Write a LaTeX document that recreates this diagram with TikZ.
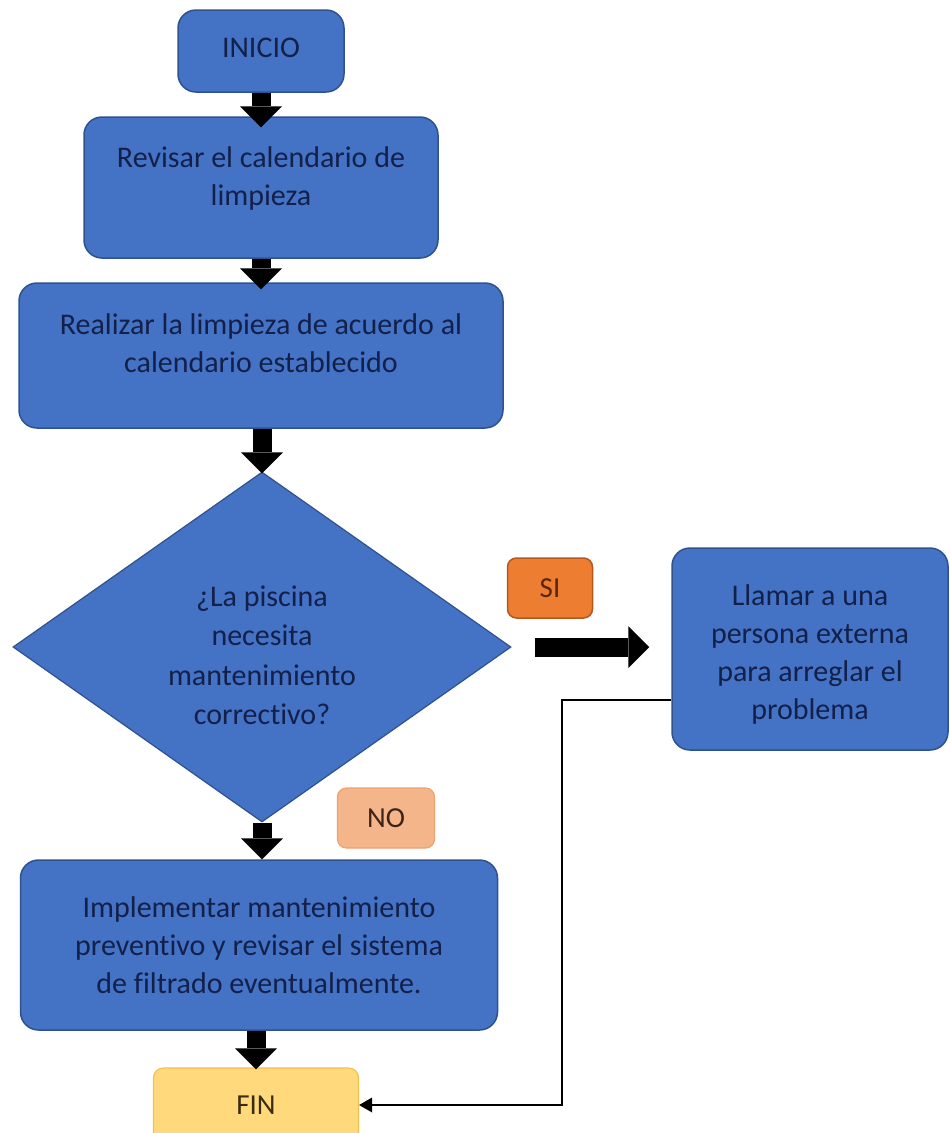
\documentclass[tikz,border=0pt]{standalone}
\usepackage{fontspec}
\setmainfont{Carlito}[Ligatures=CommonOff]
\usetikzlibrary{arrows.meta,shapes.geometric,calc}
\definecolor{boxblue}{HTML}{4472C4}
\definecolor{boxborder}{HTML}{2F528F}
\definecolor{navytext}{HTML}{13204A}
\definecolor{siorange}{HTML}{ED7D31}
\definecolor{siborder}{HTML}{B4581E}
\definecolor{sitext}{HTML}{5A2608}
\definecolor{nofill}{HTML}{F5B58A}
\definecolor{noborder}{HTML}{EFA172}
\definecolor{notext}{HTML}{3E2418}
\definecolor{finfill}{HTML}{FFD97C}
\definecolor{finborder}{HTML}{F2C14E}
\definecolor{fintext}{HTML}{3A2C10}
\newcommand{\dstrut}[1]{\rule[-#1]{0pt}{#1}}
\newcommand{\hstrut}[1]{\rule{0pt}{#1}}
\tikzset{
  bluebox/.style={draw=boxborder, line width=1.5pt, fill=boxblue, rounded corners=18pt,
    text=navytext, align=center, inner sep=0pt, font=\fontsize{30}{38}\selectfont},
  decision/.style={diamond, draw=boxborder, line width=1.2pt, fill=boxblue, inner sep=0pt,
    text=navytext, align=center, font=\fontsize{30}{39.5}\selectfont},
  silabel/.style={draw=siborder, line width=1.5pt, fill=siorange, rounded corners=9pt,
    text=sitext, inner sep=0pt, font=\fontsize{29}{36}\selectfont},
  nolabel/.style={draw=noborder, line width=1.2pt, fill=nofill, rounded corners=9pt,
    text=notext, inner sep=0pt, font=\fontsize{29}{36}\selectfont},
  finbox/.style={draw=finborder, line width=1.2pt, fill=finfill, rounded corners=10pt,
    text=fintext, inner sep=0pt, font=\fontsize{29}{36}\selectfont},
  bigarrow/.style={black, line width=19pt, -{Triangle[width=42pt,length=21pt,line width=0pt]}},
  thinarrow/.style={black, line width=2.8pt, -{Triangle[width=15pt,length=13pt,line width=0pt]}}
}
\begin{document}
\begin{tikzpicture}[x=1pt,y=-1pt]
\useasboundingbox (0,0) rectangle (950,1133);
\fill[white] (0,0) rectangle (950,1133);

\node[bluebox, minimum width=166pt, minimum height=82pt] (inicio) at (261,51) {INICIO\dstrut{6pt}};
\node[bluebox, minimum width=354pt, minimum height=141pt] (revisar) at (261,187.5)
  {Revisar el calendario de\\limpieza\dstrut{22pt}};
\node[bluebox, minimum width=484pt, minimum height=145pt] (realizar) at (261,355.5)
  {Realizar la limpieza de acuerdo al\\calendario establecido\dstrut{24pt}};
\node[decision, minimum width=498pt, minimum height=350pt] (dec) at (262,647)
  {\hstrut{37pt}¿La piscina\\necesita\\mantenimiento\\correctivo?};
\node[silabel, minimum width=85pt, minimum height=60pt] (si) at (550,588) {SI};
\node[bluebox, minimum width=276pt, minimum height=202pt] (llamar) at (810,649)
  {\hstrut{32pt}Llamar a una\\persona externa\\para arreglar el\\problema};
\node[nolabel, minimum width=97pt, minimum height=60pt] (no) at (386,818) {NO};
\node[bluebox, minimum width=477pt, minimum height=170pt] (impl) at (259,945)
  {Implementar mantenimiento\\preventivo y revisar el sistema\\de filtrado eventualmente.};
\node[finbox, minimum width=205pt, minimum height=74pt] (fin) at (256,1105) {FIN};

\draw[bigarrow, shorten >=-11pt] (inicio.south) -- (inicio.south |- revisar.north);
\draw[bigarrow, shorten >=-7pt] (revisar.south) -- (revisar.south |- realizar.north);
\draw[bigarrow, shorten >=-2pt] (realizar.south -| dec.north) -- (dec.north);
\draw[bigarrow] (dec.south) -- (dec.south |- impl.north);
\draw[bigarrow, shorten >=-2pt] (impl.south -| fin.north) -- (fin.north);
\draw[bigarrow, shorten <=23pt, shorten >=22pt] (dec.east) -- (dec.east -| llamar.west);

\coordinate (bend) at (562,700);
\draw[thinarrow] ([yshift=-51pt]llamar.west) -- (bend) |- (fin.east);
\end{tikzpicture}
\end{document}
